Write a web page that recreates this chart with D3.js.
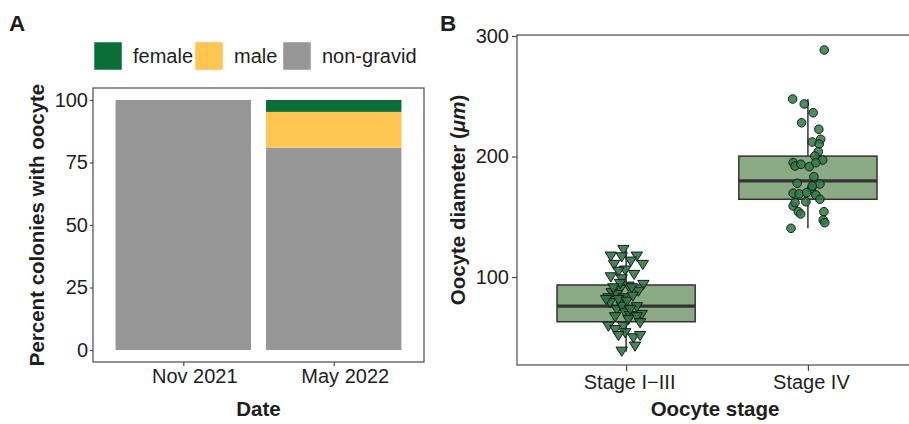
<!DOCTYPE html>
<html><head><meta charset="utf-8">
<script src="https://cdn.jsdelivr.net/npm/d3@7"></script>
<style>
body{margin:0;background:#fff;}
text{font-family:"Liberation Sans",Arial,sans-serif;}
</style></head>
<body><svg id="chart" width="909" height="424"></svg>
<script>
// ---------- Panel A data ----------
const dates = ["Nov 2021", "May 2022"];
const femalePct = [0, 4.76];
const malePct = [0, 14.29];
const nonGravidPct = [100, 80.95];
const legendLabels = ["female", "male", "non-gravid"];
const legendColors = ["#0c6e37", "#fec551", "#969696"];
const pctTicks = [0, 25, 50, 75, 100];

// ---------- Panel B data ----------
const stages = ["Stage I\u2212III", "Stage IV"];
const diamTicks = [100, 200, 300];
// box statistics
const boxQ1 = [62.9, 164.5];
const boxMedian = [75.9, 179.7];
const boxQ3 = [93.4, 200.3];
const whiskerLow = [38, 140.4];
const whiskerHigh = [122.4, 247.7];
// individual oocytes: value + jitter (in category units)
const stage13Values = [122.4,116.9,116.3,116.9,110,112.7,110,105.3,101.7,99.7,104.4,98,93.4,92,87.8,90.6,89.2,86.5,82.3,85,82.3,78.2,72.6,75.4,69.9,67.6,68.5,66.6,64.3,61.6,58.8,56,58.8,53.3,51,49.1,51,42.2,38,66.6,80.9,79.5,83.7,94.2,74.9,90.6,80.9,72.6];
const stage13Jitter = [-0.015,-0.084,-0.024,0.059,0.092,0.026,-0.066,-0.005,0.044,-0.084,-0.042,-0.024,0.095,0.013,0.068,0.031,-0.033,-0.079,-0.097,-0.051,-0.015,-0.088,-0.051,-0.024,-0.005,0.022,0.086,0.059,0.013,0.077,-0.097,-0.06,-0.015,-0.005,-0.042,0.04,0.077,0.049,-0.024,-0.06,-0.042,0.004,0.037,-0.033,0.059,-0.07,-0.11,0.022];
const stage4Values = [288.4,247.7,243.6,236.3,228,222.6,214.3,212,210.4,204,200.4,197.1,194.9,192.1,193.5,191.5,194.9,183.2,177.8,177.2,173.6,169.5,168.9,170,168,164.5,158.9,162.5,154.2,152.3,154.2,147.3,145.1,140.4,161.7,175.5];
const stage4Jitter = [0.09,-0.084,-0.02,0.029,-0.035,0.06,0.07,0.024,0.062,0.057,0.038,0.081,-0.081,-0.071,-0.038,0.007,0.044,0.033,-0.059,0.066,0.02,-0.081,-0.048,-0.007,0.044,0.066,-0.081,-0.011,-0.053,-0.04,0.088,0.084,0.093,-0.093,-0.071,0.024];

const svg = d3.select("#chart");
const axisColor = "#4a4a4a";
const textColor = "#1e1e1e";
const FS = 20;

// ================= PANEL A =================
const A = {left: 93, right: 424, top: 88, bottom: 362};
const xA = d3.scalePoint().domain(dates).range([A.left, A.right]).padding(0.6);
const yA = d3.scaleLinear().domain([-4.8, 104.8]).range([A.bottom, A.top]);
const barW = xA.step() * 0.9;

const gA = svg.append("g");
const stackData = dates.map((d, i) => ({date: d, female: femalePct[i], male: malePct[i], nongravid: nonGravidPct[i]}));
const stack = d3.stack().keys(["nongravid", "male", "female"])(stackData);
const keyColor = {female: legendColors[0], male: legendColors[1], nongravid: legendColors[2]};
stack.forEach(layer => {
  gA.selectAll(null).data(layer).join("rect")
    .attr("x", d => xA(d.data.date) - barW / 2)
    .attr("width", barW)
    .attr("y", d => yA(d[1]))
    .attr("height", d => Math.max(0, yA(d[0]) - yA(d[1])))
    .attr("fill", keyColor[layer.key]);
});
gA.append("rect").attr("x", A.left).attr("y", A.top).attr("width", A.right - A.left).attr("height", A.bottom - A.top)
  .attr("fill", "none").attr("stroke", axisColor).attr("stroke-width", 1.2);

const yAxisA = gA.append("g").attr("transform", `translate(${A.left},0)`)
  .call(d3.axisLeft(yA).tickValues(pctTicks).tickSize(3).tickPadding(2));
const xAxisA = gA.append("g").attr("transform", `translate(0,${A.bottom})`)
  .call(d3.axisBottom(xA).tickSize(4).tickPadding(3));
[yAxisA, xAxisA].forEach(ax => {
  ax.select(".domain").remove();
  ax.selectAll(".tick line").attr("stroke", axisColor).attr("stroke-width", 1.2);
  ax.selectAll(".tick text").attr("font-size", FS).attr("fill", textColor).attr("font-family", "Liberation Sans, Arial, sans-serif");
});
xAxisA.selectAll(".tick text").attr("dx", 11);

gA.append("text").attr("transform", `translate(44,${(A.top + A.bottom) / 2}) rotate(-90)`)
  .attr("text-anchor", "middle").attr("font-size", 20.5).attr("font-weight", "bold").attr("fill", textColor)
  .text("Percent colonies with oocyte");
gA.append("text").attr("x", (A.left + A.right) / 2).attr("y", 416).attr("text-anchor", "middle")
  .attr("font-size", 20.5).attr("font-weight", "bold").attr("fill", textColor).text("Date");

// legend
const legX = [94, 195, 283];
legendLabels.forEach((lab, i) => {
  gA.append("rect").attr("x", legX[i]).attr("y", 42).attr("width", 28).attr("height", 28)
    .attr("fill", legendColors[i]).attr("stroke", "#e6e6e6").attr("stroke-width", 0.6);
  gA.append("text").attr("x", legX[i] + 39).attr("y", 63).attr("font-size", FS).attr("fill", textColor).text(lab);
});

svg.append("text").attr("x", 9).attr("y", 31).attr("font-size", 22.5).attr("font-weight", "bold").attr("fill", textColor).text("A");
svg.append("text").attr("x", 440).attr("y", 31).attr("font-size", 22.5).attr("font-weight", "bold").attr("fill", textColor).text("B");

// ================= PANEL B =================
const B = {left: 517, right: 917, top: 35, bottom: 365};
const xB = d3.scalePoint().domain(stages).range([B.left, B.right]).padding(0.6);
const yB = d3.scaleLinear().domain([27, 300.8]).range([B.bottom, B.top]);
const boxW = xB.step() * 0.76;
const gB = svg.append("g");

stages.forEach((s, i) => {
  const cx = xB(s);
  gB.append("line").attr("x1", cx).attr("x2", cx).attr("y1", yB(whiskerLow[i])).attr("y2", yB(whiskerHigh[i]))
    .attr("stroke", "#333").attr("stroke-width", 1.5);
  gB.append("rect").attr("x", cx - boxW / 2).attr("width", boxW)
    .attr("y", yB(boxQ3[i])).attr("height", yB(boxQ1[i]) - yB(boxQ3[i]))
    .attr("fill", "#8aaa84").attr("stroke", "#333").attr("stroke-width", 1.5);
  gB.append("line").attr("x1", cx - boxW / 2).attr("x2", cx + boxW / 2)
    .attr("y1", yB(boxMedian[i])).attr("y2", yB(boxMedian[i]))
    .attr("stroke", "#333").attr("stroke-width", 3.2);
});

// triangles (Stage I-III)
const tri = d3.symbol().type({draw(ctx, size){ const w = 5.7, h = 9.2; ctx.moveTo(-w, -h/2); ctx.lineTo(w, -h/2); ctx.lineTo(0, h/2); ctx.closePath(); }})();
gB.selectAll(".tri").data(stage13Values.map((v, i) => ({v, j: stage13Jitter[i]}))).join("path")
  .attr("d", tri)
  .attr("transform", d => `translate(${xB(stages[0]) + d.j * xB.step()},${yB(d.v)})`)
  .attr("fill", "#2a7541").attr("fill-opacity", 0.88).attr("stroke", "#1a1a1a").attr("stroke-width", 1);

// circles (Stage IV)
gB.selectAll(".pt").data(stage4Values.map((v, i) => ({v, j: stage4Jitter[i]}))).join("circle")
  .attr("cx", d => xB(stages[1]) + d.j * xB.step())
  .attr("cy", d => yB(d.v)).attr("r", 4.3)
  .attr("fill", "#2c7a43").attr("fill-opacity", 0.85).attr("stroke", "#1a1a1a").attr("stroke-width", 1);

gB.append("rect").attr("x", B.left).attr("y", B.top).attr("width", B.right - B.left).attr("height", B.bottom - B.top)
  .attr("fill", "none").attr("stroke", axisColor).attr("stroke-width", 1.2);

const yAxisB = gB.append("g").attr("transform", `translate(${B.left},0)`)
  .call(d3.axisLeft(yB).tickValues(diamTicks).tickSize(5).tickPadding(3));
const xAxisB = gB.append("g").attr("transform", `translate(0,${B.bottom})`)
  .call(d3.axisBottom(xB).tickSize(6).tickPadding(4));
[yAxisB, xAxisB].forEach(ax => {
  ax.select(".domain").remove();
  ax.selectAll(".tick line").attr("stroke", axisColor).attr("stroke-width", 1.2);
  ax.selectAll(".tick text").attr("font-size", FS).attr("fill", textColor).attr("font-family", "Liberation Sans, Arial, sans-serif");
});
xAxisB.selectAll(".tick text").attr("dx", 3);

const yt = gB.append("text").attr("transform", `translate(465,${(B.top + B.bottom) / 2}) rotate(-90)`)
  .attr("text-anchor", "middle").attr("font-size", 20.5).attr("font-weight", "bold").attr("fill", textColor);
yt.append("tspan").text("Oocyte diameter (");
yt.append("tspan").attr("font-style", "italic").text("\u03bcm");
yt.append("tspan").text(")");
gB.append("text").attr("x", (B.left + B.right) / 2 - 2).attr("y", 416).attr("text-anchor", "middle")
  .attr("font-size", 20.5).attr("font-weight", "bold").attr("fill", textColor).text("Oocyte stage");
</script></body></html>
